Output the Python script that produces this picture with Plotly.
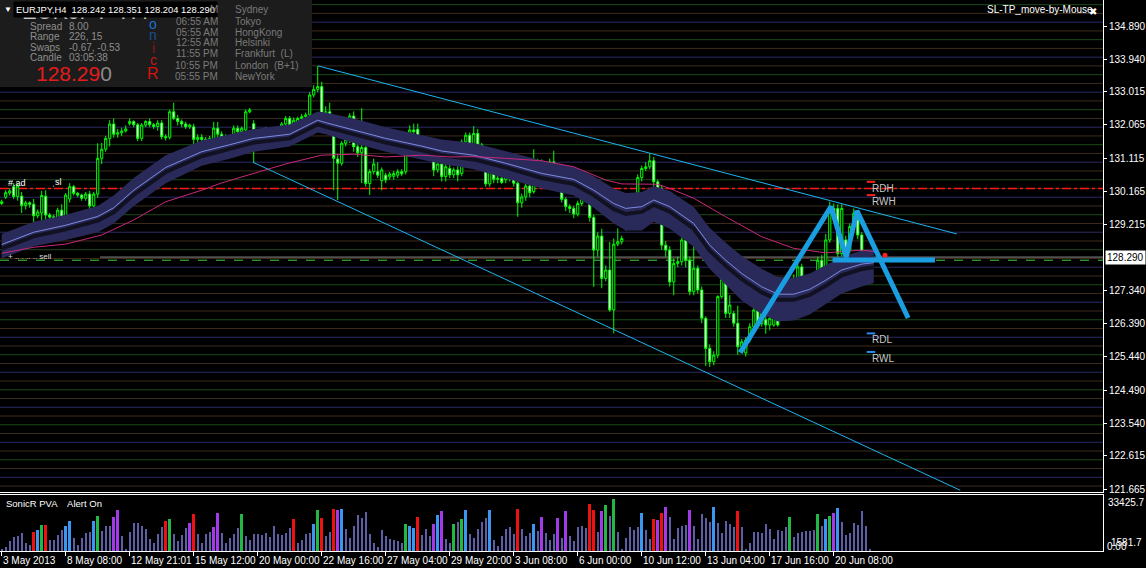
import plotly.graph_objects as go

W, H = 1146, 568

# ---------------- DATA ----------------
opens = [129.82,130.00,130.12,130.30,130.02,130.03,129.76,129.84,129.80,129.47,
129.55,130.03,129.49,129.44,129.11,129.63,129.45,129.95,130.30,130.11,
130.06,129.97,130.09,129.75,130.09,131.11,131.37,131.68,132.09,131.80,
131.84,131.89,132.10,132.16,132.07,131.68,132.06,132.16,132.07,132.02,
132.12,131.73,131.71,132.44,132.25,132.16,132.09,132.01,132.01,131.65,
131.71,131.65,131.49,131.68,131.97,131.80,131.71,131.54,131.55,131.97,
131.87,131.92,132.44,132.10,131.75,131.84,131.92,131.88,131.92,131.73,
131.63,132.09,132.25,132.06,132.15,132.25,132.30,132.35,132.92,133.08,
133.16,132.25,132.44,132.01,131.09,130.97,131.54,131.65,132.32,131.44,
131.27,131.42,130.39,130.73,130.73,130.47,130.63,130.58,130.60,130.63,
130.73,130.73,131.42,131.92,131.94,131.30,131.54,131.63,131.35,130.78,
130.95,130.59,130.82,130.64,130.78,130.68,131.58,131.77,131.35,131.82,
131.49,131.08,130.38,130.92,130.51,130.54,130.50,130.92,130.54,130.40,
129.84,130.01,130.32,130.16,130.97,131.01,130.92,130.80,131.01,130.85,
130.39,129.94,129.73,129.68,129.52,129.82,130.16,130.00,129.42,128.49,
128.89,127.68,127.92,126.78,128.66,128.73,129.11,129.82,129.49,129.92,
130.56,130.82,130.87,131.04,130.44,130.22,128.63,128.49,127.58,128.11,
128.16,128.78,128.20,127.30,127.97,127.35,126.54,125.68,125.30,125.49,
127.16,127.65,126.68,126.68,126.40,125.73,125.55,125.92,126.30,126.78,
126.39,126.50,126.35,126.35,126.68,126.63,127.16,127.40,127.63,127.63,
128.01,127.54,127.20,127.40,127.63,128.20,127.97,128.78,129.68,129.68,
128.39,128.78,128.49,129.16,129.35,128.92,127.77,128.242]
highs = [129.93,130.20,130.25,130.40,130.40,130.15,129.90,129.88,129.95,129.65,
130.18,130.20,129.55,129.50,129.70,129.80,130.12,130.40,130.35,130.15,
130.10,130.15,130.18,130.15,131.54,131.55,131.75,132.20,132.25,131.95,
131.98,132.05,132.25,132.20,132.12,132.12,132.20,132.25,132.12,132.20,
132.20,131.80,132.50,132.70,132.35,132.22,132.15,132.10,132.10,131.80,
131.80,131.72,131.75,132.15,132.15,131.88,131.80,131.75,132.05,132.05,
132.02,132.50,132.55,132.20,131.90,131.95,132.00,131.98,132.00,131.80,
132.15,132.32,132.32,132.28,132.30,132.38,132.42,133.00,133.20,133.75,
133.30,132.60,132.70,132.10,131.20,131.60,131.75,132.40,132.45,131.50,
132.54,131.50,130.80,131.10,131.00,130.85,130.70,130.72,130.75,130.80,
130.80,131.50,132.05,132.10,132.10,131.60,131.75,131.70,131.45,131.00,
131.05,130.95,130.95,130.85,130.90,131.65,131.85,131.85,132.03,131.95,
131.55,131.15,131.00,131.10,130.65,130.62,131.00,131.00,130.60,130.45,
130.10,130.40,130.40,131.37,131.10,131.08,131.00,131.10,131.33,130.95,
130.45,130.00,129.80,129.75,129.90,130.25,130.22,130.63,129.50,129.00,
129.10,128.05,128.72,128.82,129.11,128.90,130.10,129.90,130.00,130.65,
130.90,131.00,131.25,131.15,130.50,130.35,128.75,128.60,128.25,128.30,
129.35,128.85,128.30,128.80,128.05,127.45,126.60,125.80,125.60,127.20,
128.05,127.70,127.20,126.75,126.90,125.95,126.00,126.40,126.90,126.85,
126.85,126.60,126.62,126.75,126.75,127.25,127.55,127.70,127.80,128.10,
128.10,127.60,127.50,127.75,128.30,128.35,128.95,129.87,129.82,129.80,
129.80,128.90,129.25,129.68,129.45,129.00,128.25,128.351]
lows = [129.78,129.95,130.05,129.95,129.90,129.55,129.65,129.70,129.20,129.40,
129.30,129.30,129.38,128.95,129.05,129.25,129.30,129.85,130.05,130.00,
129.90,129.90,129.65,129.55,129.98,130.95,131.30,131.45,131.70,131.70,
131.75,131.85,132.05,132.00,131.60,131.60,132.00,132.00,131.95,131.90,
131.65,131.62,131.65,132.20,132.05,132.00,131.95,131.95,131.11,131.55,
131.50,131.28,131.40,131.60,131.45,131.55,131.45,131.45,131.50,131.80,
131.25,131.85,132.40,130.97,131.70,131.78,131.82,131.82,131.65,131.58,
131.58,132.00,132.00,132.00,132.05,132.20,132.25,132.30,132.85,133.00,
132.10,132.10,131.90,130.20,129.92,130.90,131.45,131.55,131.30,131.15,
130.40,130.30,130.06,130.65,130.55,130.20,130.40,130.50,130.50,130.55,
130.60,130.65,131.35,131.80,131.20,131.20,131.45,131.10,130.60,130.70,
130.45,130.45,130.55,130.55,130.45,130.60,131.50,131.25,131.30,131.40,
131.00,130.30,130.30,130.40,130.40,130.38,130.40,130.45,130.30,129.44,
129.70,129.90,130.00,130.10,130.90,130.85,130.72,130.70,130.80,130.30,
129.85,129.60,129.55,129.40,129.45,129.75,129.90,129.30,127.44,128.30,
127.40,127.60,126.73,126.11,128.60,128.65,129.05,129.30,129.20,129.80,
130.45,130.75,130.80,129.85,129.90,128.50,128.30,127.45,127.20,128.00,
128.05,128.00,127.20,127.20,127.25,126.40,125.18,125.15,125.20,125.40,
127.10,126.55,126.55,126.30,125.50,125.60,125.45,125.85,126.20,126.30,
126.30,126.10,126.20,126.30,126.30,126.55,127.05,127.30,127.55,127.55,
127.45,127.05,127.00,127.30,127.55,127.90,127.90,128.70,129.30,128.30,
128.30,128.20,128.40,129.10,128.80,127.65,127.70,128.204]
closes = [129.87,130.13,130.18,130.02,130.32,129.76,129.84,129.80,129.47,129.58,
130.05,129.49,129.43,129.11,129.63,129.37,130.06,130.30,130.11,130.06,
129.97,130.09,129.75,130.09,131.11,131.37,131.68,132.09,131.80,131.84,
131.89,131.95,132.16,132.07,131.68,132.06,132.16,132.07,132.02,132.12,
131.73,131.70,132.44,132.25,132.16,132.09,132.01,132.06,131.65,131.71,
131.65,131.49,131.68,131.97,131.80,131.71,131.54,131.68,131.97,131.87,
131.97,132.44,132.49,131.75,131.84,131.90,131.88,131.92,131.73,131.63,
132.09,132.25,132.06,132.20,132.25,132.30,132.35,132.92,133.08,133.16,
132.25,132.44,132.01,131.11,130.97,131.54,131.65,132.32,131.44,131.27,
131.42,130.39,130.73,130.95,130.63,130.78,130.49,130.66,130.68,130.73,
130.67,131.42,131.92,131.87,131.30,131.54,131.66,131.33,130.78,130.95,
130.59,130.87,130.64,130.78,130.64,131.58,131.77,131.35,131.82,131.49,
131.08,130.38,130.92,130.51,130.54,130.42,130.92,130.54,130.40,129.84,
130.01,130.32,130.13,130.97,131.01,130.92,130.80,131.01,130.85,130.39,
129.94,129.73,129.68,129.52,129.82,130.16,130.00,129.42,128.49,128.89,
127.68,127.92,126.78,128.66,128.73,128.82,129.82,129.49,129.92,130.56,
130.82,130.87,131.04,130.44,130.22,128.63,128.49,127.58,128.11,128.16,
128.78,128.20,127.30,127.97,127.35,126.54,125.68,125.30,125.49,127.16,
127.65,126.68,126.92,126.40,125.73,125.87,125.92,126.30,126.78,126.39,
126.78,126.35,126.54,126.68,126.35,127.16,127.44,127.63,127.68,128.01,
127.54,127.25,127.44,127.63,128.20,127.97,128.78,129.58,129.44,128.39,
129.68,128.35,129.16,129.54,128.92,127.77,128.11,128.290]
bars = list(range(len(closes)))

volumes = [1500,2560,5750,8500,8950,11000,4700,3600,11700,12600,
15800,15800,6400,6400,9600,12600,14900,18100,7900,3600,
7900,11000,11500,18100,21300,12100,14900,14900,20700,24500,
8950,1500,11500,16600,16600,15300,13200,7500,4700,10400,
14300,18100,19400,10000,5750,9600,13600,16600,22600,10000,
4700,10000,11700,14700,23000,10650,4700,7900,10400,13600,
22600,8950,6800,10400,10000,9400,11000,8300,14900,10400,
9600,11000,13600,19200,4700,6800,10200,11000,16000,24900,
20000,8950,11500,25600,24900,25600,13200,7900,15300,21700,
19600,23400,10000,4700,2560,12800,8950,7500,6800,5750,
4700,16400,15300,13600,20700,9400,13200,8950,16400,21700,
24300,7200,4700,16000,17500,19200,24900,10000,7900,13200,
17500,19600,24900,6800,3000,8950,13200,14300,10000,25600,
13200,8950,11000,16000,12100,20700,11000,6800,10000,20000,
7900,23900,8950,5750,14300,14900,13600,28100,24900,11500,
23900,27700,21300,31300,11500,1500,7900,14300,12600,14700,
23000,12600,7200,19400,18700,23000,26400,20200,7200,13600,
14900,15800,24900,15300,7200,22200,19600,17500,26400,16800,
11000,17900,16400,14700,23900,14700,1500,4700,11500,11500,
11000,16200,13200,7200,12600,12100,14700,20700,8500,11000,
11500,12100,12100,12600,22600,15300,19000,21300,23200,25800,
17300,9400,11000,16800,15800,23900,15300,1500]
vol_codes = ("ssssssss" "rbgr" "ssss" "bb" "sssss" "bg" "sss" "pp" "sssssssssss"
             "rg" "ssss" "pr" "ssss" "pp" "sssss" "g" "ssssssssssss" "r" "ssss"
             "bgr" "ss" "rpb" "sssssssssssssss" "gbbr" "sss" "pbp" "ss" "g" "s"
             "gb" "sssss" "b" "ssssss" "r" "sss" "b" "s" "p" "sss" "p" "s" "p"
             "sssss" "rr" "s" "p" "g" "s" "g" "ssssss" "b" "ss" "r" "p" "r" "p"
             "sssss" "p" "sssss" "b" "sssss" "r" "ssssssssssss" "g" "ssssss" "g"
             "s" "b" "g" "p" "b" "ssssssss")
vol_max_label = 33425.7
vol_low_label = 1581.7

dragon_idx = [0,8,16,24,28,33,41,50,57,63,72,79,81,88,96,105,110,118,126,135,
              143,148,153,156,160,163,167,173,177,181,185,190,194,198,202,206,210,215,218]
dragon_mid = [128.65,129.00,129.20,129.45,129.70,130.20,130.85,131.30,131.50,131.68,
              131.80,132.20,132.13,131.92,131.68,131.46,131.32,131.20,130.97,130.68,
              130.51,130.20,129.82,129.68,129.73,129.92,129.73,129.25,128.63,128.20,
              127.82,127.44,127.23,127.23,127.37,127.63,127.92,128.09,128.13]
dragon_hi = [128.95,129.30,129.50,129.75,130.05,130.55,131.20,131.62,131.80,131.95,
             132.08,132.45,132.42,132.25,132.00,131.78,131.65,131.55,131.32,131.05,
             130.88,130.60,130.25,130.12,130.15,130.32,130.18,129.72,129.12,128.70,
             128.32,127.95,127.72,127.70,127.82,128.05,128.30,128.48,128.52]
dragon_lo = [128.25,128.60,128.78,129.00,129.25,129.75,130.40,130.90,131.10,131.30,
             131.45,131.85,131.80,131.55,131.30,131.08,130.95,130.80,130.55,130.25,
             130.05,129.70,129.25,129.05,129.05,129.30,129.10,128.58,127.95,127.50,
             127.05,126.65,126.45,126.48,126.65,126.95,127.25,127.45,127.55]
dragon_dark = [128.53,128.88,129.08,129.33,129.57,130.07,130.72,131.17,131.38,131.56,
               131.68,132.08,132.01,131.80,131.56,131.34,131.20,131.08,130.85,130.55,
               130.38,130.06,129.66,129.52,129.58,129.78,129.59,129.10,128.47,128.04,
               127.66,127.28,127.07,127.07,127.21,127.47,127.77,127.95,128.00]

ema_slow_idx = [0,8,16,25,33,41,50,55,63,71,80,88,96,105,112,118,126,135,143,151,
                155,160,164,167,173,181,190,198,206,215,218]
ema_slow = [128.40,128.57,128.66,128.92,129.35,129.87,130.20,130.41,130.68,130.95,
            131.20,131.23,131.15,131.20,131.15,131.16,131.11,131.04,130.87,130.49,
            130.38,130.38,130.37,130.25,129.97,129.44,128.87,128.54,128.41,128.49,128.45]

trend_upper_x = [79.1, 238.8]
trend_upper_y = [133.75, 128.95]
trend_lower_x = [62.8, 239.6]
trend_lower_y = [131.00, 121.63]
zigzag_x = [184.6, 207.3, 211.1, 213.8, 226.6]
zigzag_y = [125.56, 129.73, 128.29, 129.61, 126.55]
neck_x = [207.7, 233.3]
neck_y = [128.21, 128.21]

pivot_names = ["RDH", "RWH", "RDL", "RWL"]
pivot_prices = [130.44, 130.06, 126.11, 125.58]
pivot_colors = ["#ff2020", "#ff2020", "#2a8cf0", "#2a8cf0"]
pivot_bar = 217.3

price_ticks = [134.890, 133.940, 133.015, 132.065, 131.115, 130.165, 129.215,
               127.340, 126.390, 125.440, 124.490, 123.540, 122.615, 121.665]
time_tick_pos = [0, 16, 32, 48, 64, 80, 96, 112, 128, 144, 160, 176, 192, 208]
time_tick_labels = ["3 May 2013", "8 May 08:00", "12 May 21:01", "15 May 12:00",
                    "20 May 00:00", "22 May 16:00", "27 May 04:00", "29 May 20:00",
                    "3 Jun 08:00", "6 Jun 00:00", "10 Jun 12:00", "13 Jun 04:00",
                    "17 Jun 16:00", "20 Jun 08:00"]
red_level = 130.25
sell_level = 128.20
grid_levels = [121.5 + 0.25 * k for k in range(57)]

# --------------- helpers ---------------
def px(x):
    return x / W

def py(y):
    return 1 - y / H

XR = [-0.425, 275.3]
YR = [121.58, 135.633]
XD = [0, px(1103)]

vol_colors_map = {"r": "#ee1111", "g": "#22b845", "b": "#3a96ee", "p": "#a33ae8", "s": "#5e5ea6"}
codes = (vol_codes + "s" * len(volumes))[:len(volumes)]
vcol = [vol_colors_map[c] for c in codes]
vwid = [0.3 if c == "s" else 0.72 for c in codes]

FONT = "Liberation Sans, Arial, sans-serif"

fig = go.Figure()

# dragon band
fig.add_trace(go.Scatter(x=dragon_idx, y=dragon_lo, mode="lines", line=dict(width=0, color="#2b2b5c"),
                         hoverinfo="skip", showlegend=False))
fig.add_trace(go.Scatter(x=dragon_idx, y=dragon_hi, mode="lines", line=dict(width=0, color="#2b2b5c"),
                         fill="tonexty", fillcolor="#2a2a5a", hoverinfo="skip", showlegend=False))
fig.add_trace(go.Scatter(x=dragon_idx, y=dragon_dark, mode="lines", line=dict(width=4, color="#111122"),
                         hoverinfo="skip", showlegend=False))
fig.add_trace(go.Scatter(x=dragon_idx, y=dragon_mid, mode="lines", line=dict(width=1, color="#7b8be0"),
                         hoverinfo="skip", showlegend=False))
fig.add_trace(go.Scatter(x=ema_slow_idx, y=ema_slow, mode="lines", line=dict(width=1, color="#c8287a"),
                         hoverinfo="skip", showlegend=False))

# trend lines
for tx, ty in ((trend_upper_x, trend_upper_y), (trend_lower_x, trend_lower_y)):
    fig.add_trace(go.Scatter(x=tx, y=ty, mode="lines", line=dict(width=1, color="#1cb4f0"),
                             hoverinfo="skip", showlegend=False))

# candles
fig.add_trace(go.Candlestick(
    x=bars, open=opens, high=highs, low=lows, close=closes,
    increasing=dict(line=dict(color="#00ff00", width=1), fillcolor="#000000"),
    decreasing=dict(line=dict(color="#00ff00", width=1), fillcolor="#ffffff"),
    whiskerwidth=0, hoverinfo="skip", showlegend=False))

# zigzag pattern
fig.add_trace(go.Scatter(x=zigzag_x, y=zigzag_y, mode="lines", line=dict(width=5, color="#1a9ee2"),
                         hoverinfo="skip", showlegend=False))
fig.add_trace(go.Scatter(x=neck_x, y=neck_y, mode="lines", line=dict(width=5, color="#1a9ee2"),
                         hoverinfo="skip", showlegend=False))

# pivot marks
fig.add_trace(go.Scatter(x=[pivot_bar] * 4, y=pivot_prices, mode="markers",
                         marker=dict(symbol="line-ew", size=6, line=dict(width=2, color=pivot_colors)),
                         hoverinfo="skip", showlegend=False))
fig.add_trace(go.Scatter(x=[220.8], y=[closes[-1] + 0.05], mode="markers",
                         marker=dict(symbol="circle", size=5, color="#ff2020"),
                         hoverinfo="skip", showlegend=False))

# volume
fig.add_trace(go.Bar(x=bars, y=volumes, marker=dict(color=vcol, line=dict(width=0)), width=vwid,
                     xaxis="x2", yaxis="y2", hoverinfo="skip", showlegend=False))

shapes = []
gcol = {0: "#2a2a66", 1: "#3d2c1c", 2: "#1b4a1b", 3: "#3d2c1c"}
for lv in grid_levels:
    k = int(round(lv * 4)) % 4
    shapes.append(dict(type="line", xref="paper", yref="y", x0=XD[0], x1=XD[1], y0=lv, y1=lv,
                       line=dict(color=gcol[k], width=1), layer="below"))
shapes.append(dict(type="line", xref="paper", yref="y", x0=XD[0], x1=XD[1], y0=red_level, y1=red_level,
                   line=dict(color="#ff1a1a", width=1.5, dash="dashdot"), layer="below"))
shapes.append(dict(type="line", xref="paper", yref="y", x0=px(100), x1=XD[1], y0=closes[-1], y1=closes[-1],
                   line=dict(color="#8a8a8a", width=1), layer="below"))
shapes.append(dict(type="line", xref="paper", yref="y", x0=XD[0], x1=XD[1], y0=sell_level, y1=sell_level,
                   line=dict(color="#3ccf3c", width=1, dash="dash"), layer="below"))
# info panel
shapes.append(dict(type="rect", xref="paper", yref="paper", x0=0, x1=px(312), y0=py(87), y1=1,
                   fillcolor="#1c1c1c", line=dict(width=0), layer="above"))

ann = []
def A(x, y, text, size=10, color="#ffffff", anchor="left", **kw):
    d = dict(xref="paper", yref="paper", x=px(x), y=py(y), text=text, showarrow=False,
             xanchor=anchor, yanchor="middle", font=dict(family=FONT, size=size, color=color))
    d.update(kw)
    ann.append(d)

# big hidden title behind header
A(20, 12, "EURJPY  H4", size=22, color="#c8c8c8")
A(13, 10, "EURJPY,H4  %.3f %.3f %.3f %.3f" % (opens[-1], highs[-1], lows[-1], closes[-1]),
  size=9.4, color="#ffffff", bgcolor="#000000", borderpad=2)
A(2, 10, "▼", size=8, color="#ffffff")

gray = "#8e8e8e"
for yy, k, v in ((26, "Spread", "8.00"), (37, "Range", "226, 15"), (47, "Swaps", "-0.67, -0.53"),
                 (57, "Candle", "03:05:38")):
    A(28, yy, k, size=10, color=gray)
    A(67, yy, v, size=10, color=gray)
A(34, 74, "<span style='color:#e41b1b'>128.29</span><span style='color:#8a8a8a'>0</span>", size=21)

for yy, ch, col, sz in ((24, "o", "#1e6ed2", 14), (35, "n", "#1d4f96", 14),
                        (48, "i", "#8b1a1a", 14), (60, "c", "#c01818", 14), (74, "R", "#d81010", 16)):
    A(153, yy, ch, size=sz, color=col, anchor="center")

times = ["06:55 AM", "05:55 AM", "12:55 AM", "11:55 PM", "10:55 PM", "05:55 PM"]
cities = ["Sydney", "Tokyo", "HongKong", "Helsinki", "Frankfurt  (L)", "London  (B+1)", "NewYork"]
rows = [10, 21, 32, 43, 54, 65, 76]
A(220, 10, "M", size=10, color="#7a7a7a", anchor="right")
for t, r in zip(times, rows[1:]):
    A(220, r, t, size=10, color="#7a7a7a", anchor="right")
for c, r in zip(cities, rows):
    A(233, r, c, size=10, color="#7a7a7a")

A(985, 10, "SL-TP_move-by-Mouse", size=10, color="#ffffff")
A(1093, 11, "✖", size=10, color="#ffffff", anchor="center")

# left small labels on lines
A(6, 183, "#.ad", size=9, color="#ffffff")
A(50, 182, "ˌsl", size=9, color="#ffffff")
A(6, 256, "+ .. . .. .. sell", size=8, color="#dddddd")

# pivot labels
for nm, pr in zip(pivot_names, pivot_prices):
    ann.append(dict(xref="x", yref="y", x=pivot_bar, y=pr, text=nm, showarrow=False,
                    xanchor="left", yanchor="top", yshift=1, xshift=-1,
                    font=dict(family=FONT, size=10, color="#c8c8c8")))

# current price box
ann.append(dict(xref="paper", yref="y", x=px(1105), y=closes[-1], text="%.3f" % closes[-1],
                showarrow=False, xanchor="left", yanchor="middle", bgcolor="#ffffff",
                font=dict(family=FONT, size=10, color="#000000"), borderpad=1))

# volume panel labels
A(4, 503, "SonicR PVA &nbsp;&nbsp; Alert On", size=9.5, color="#ffffff")
A(1106, 502, "%.1f" % vol_max_label, size=10, color="#ffffff")
A(1109, 542, "%.1f" % vol_low_label, size=10, color="#ffffff")
A(1105, 546, "0.00", size=10, color="#ffffff")

# time labels
for pos, lab in zip(time_tick_pos, time_tick_labels):
    ann.append(dict(xref="x2", yref="paper", x=pos, y=py(560), text=lab, showarrow=False,
                    xanchor="left", yanchor="middle", xshift=-1,
                    font=dict(family=FONT, size=10, color="#ffffff")))

fig.update_layout(
    width=W, height=H, margin=dict(l=0, r=0, t=0, b=0, pad=0, autoexpand=False),
    paper_bgcolor="#000000", plot_bgcolor="#000000",
    showlegend=False, shapes=shapes, annotations=ann,
    boxgap=0.22,
    xaxis=dict(domain=XD, range=XR, anchor="y", showgrid=False, zeroline=False,
               showticklabels=False, ticks="", showline=True, linecolor="#ffffff", linewidth=1,
               rangeslider=dict(visible=False), fixedrange=True, automargin=False),
    yaxis=dict(domain=[py(492), 1], range=YR, side="right", anchor="x", showgrid=False, zeroline=False,
               tickmode="array", tickvals=price_ticks, ticktext=["%.3f" % v for v in price_ticks],
               ticks="outside", ticklen=3, tickcolor="#ffffff",
               tickfont=dict(family=FONT, size=10, color="#ffffff"),
               showline=True, linecolor="#ffffff", linewidth=1, fixedrange=True, automargin=False),
    xaxis2=dict(domain=XD, range=XR, anchor="y2", showgrid=False, zeroline=False,
                tickmode="array", tickvals=time_tick_pos, ticktext=[""] * len(time_tick_pos),
                ticks="outside", ticklen=4, tickcolor="#ffffff",
                showline=True, mirror=True, linecolor="#ffffff", linewidth=1, fixedrange=True,
                automargin=False),
    yaxis2=dict(domain=[py(551), py(495)], range=[0, vol_max_label * 1.01], anchor="x2", side="right",
                showgrid=False, zeroline=False, showticklabels=False, ticks="",
                showline=True, mirror=True, linecolor="#ffffff", linewidth=1, fixedrange=True,
                automargin=False),
    bargap=0,
)

fig.write_html("out.html", config={"displayModeBar": False},
               post_script="document.body.style.margin='0';document.body.style.background='#000';")
